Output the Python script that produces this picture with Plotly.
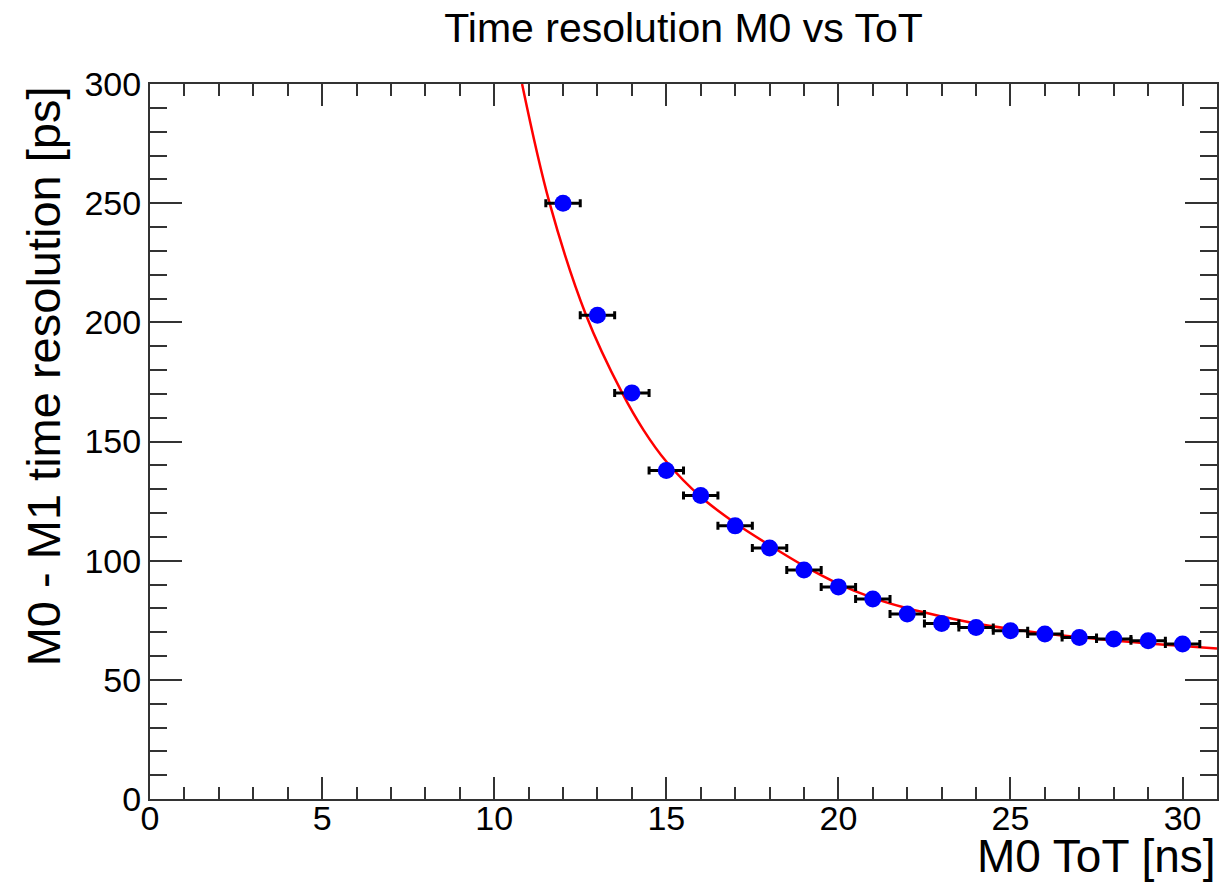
import plotly.graph_objects as go

# ---- data ----
tot_ns = [12, 13, 14, 15, 16, 17, 18, 19, 20, 21, 22, 23, 24, 25, 26, 27, 28, 29, 30]
resolution_ps = [250.0, 203.0, 170.4, 137.8, 127.3, 114.6, 105.3, 96.1, 89.0, 83.9,
                 77.6, 73.6, 72.0, 70.6, 69.2, 67.8, 67.1, 66.4, 65.0]
tot_err = [0.5] * len(tot_ns)

fit_x = [10.81, 11.61, 12.67, 13.71, 14.34, 15.0, 16.0, 17.0, 18.0, 19.0,
         20.0, 21.0, 22.0, 23.0, 24.13, 26.07, 28.0, 31.0]
fit_y = [300.0, 250.0, 203.0, 170.6, 154.8, 141.6, 126.8, 115.8, 106.5, 97.8,
         90.3, 84.4, 80.0, 76.6, 73.3, 69.3, 66.5, 63.1]

title_text = "Time resolution M0 vs ToT"
x_title = "M0 ToT [ns]"
y_title = "M0 - M1 time resolution [ps]"

FONT = "Liberation Sans, Arial, Helvetica, sans-serif"

fig = go.Figure()

fig.add_trace(go.Scatter(
    x=fit_x, y=fit_y, mode="lines",
    line=dict(color="#ff0000", width=2.5, shape="spline", smoothing=1.0),
    hoverinfo="skip", showlegend=False,
))

fig.add_trace(go.Scatter(
    x=tot_ns, y=resolution_ps, mode="markers",
    marker=dict(color="#0000ff", size=17, line=dict(width=0)),
    error_x=dict(type="data", array=tot_err, visible=True,
                 color="#000000", thickness=3, width=4),
    showlegend=False,
))

axis_common = dict(
    showline=True, linecolor="#333333", linewidth=2, mirror="allticks",
    ticks="inside", tickcolor="#333333", tickwidth=2,
    showgrid=False, zeroline=False,
    tickfont=dict(family=FONT, size=34, color="#000000"),
)

fig.update_xaxes(
    range=[0, 31], dtick=5, tick0=0, ticklen=22, ticklabelstandoff=-12,
    minor=dict(dtick=1, ticks="inside", ticklen=12, tickcolor="#333333", tickwidth=2, showgrid=False),
    **axis_common,
)
fig.update_yaxes(
    range=[0, 300], dtick=50, tick0=0, ticklen=32,
    minor=dict(dtick=10, ticks="inside", ticklen=17, tickcolor="#333333", tickwidth=2, showgrid=False),
    **axis_common,
)

fig.update_layout(
    width=1229, height=884,
    paper_bgcolor="white", plot_bgcolor="white",
    margin=dict(l=150, r=12, t=84, b=85, autoexpand=False),
    title=dict(text=title_text, x=0.5, xref="paper", xanchor="center",
               y=1 - 28 / 884, yref="container", yanchor="middle",
               font=dict(family=FONT, size=41, color="#000000")),
    annotations=[
        dict(text=x_title, xref="paper", yref="paper", x=1.0, y=-0.117,
             xanchor="right", yanchor="bottom", showarrow=False, borderpad=0,
             font=dict(family=FONT, size=46, color="#000000")),
        dict(text=y_title, xref="paper", yref="paper", x=-0.1, y=1.0,
             xanchor="center", yanchor="top", textangle=-90, showarrow=False,
             font=dict(family=FONT, size=47, color="#000000")),
    ],
)

fig.write_html("out.html")
